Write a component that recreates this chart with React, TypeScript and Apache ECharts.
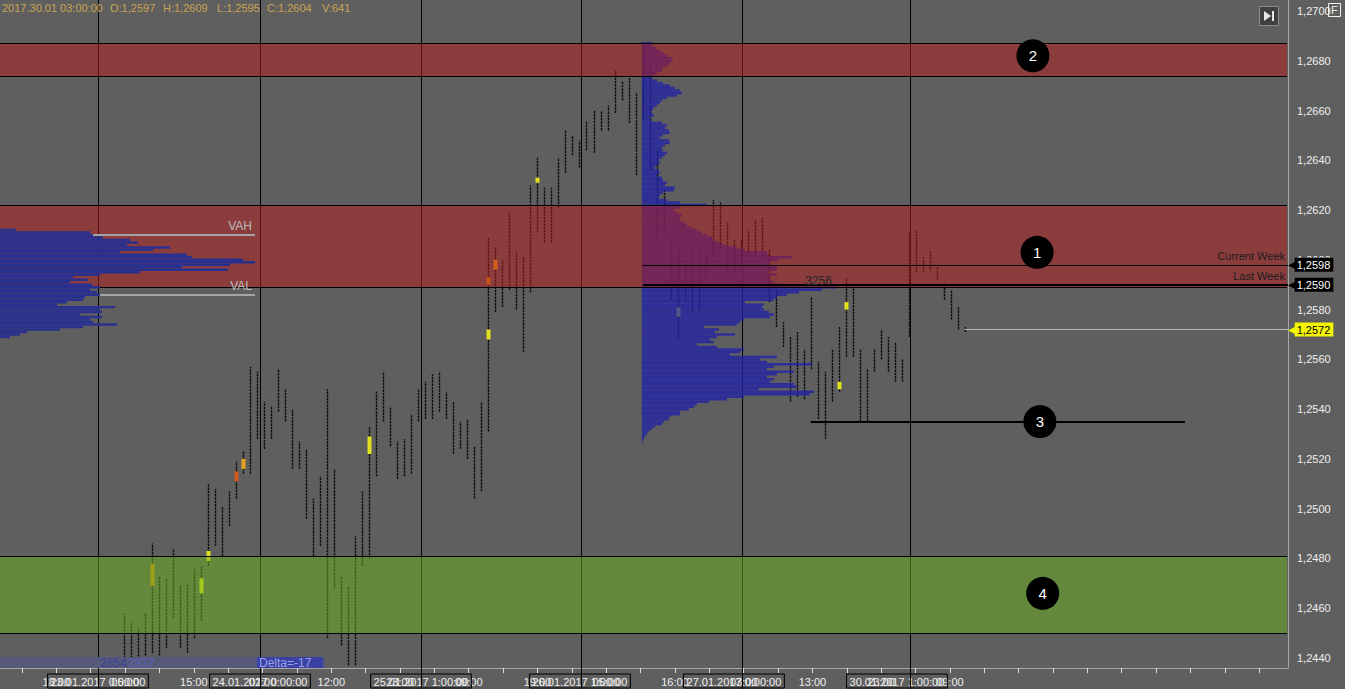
import React, { useEffect, useRef } from 'react';
import * as echarts from 'echarts';

const FONT = '"Liberation Sans", Arial, sans-serif';

// ---- axes ----
const Y_MIN = 1.2436;
const Y_MAX = 1.27044;
const X_MIN = -2.69;
const X_MAX = 181.1;

const PRICE_TICKS = [1.244, 1.246, 1.248, 1.25, 1.252, 1.254, 1.256, 1.258, 1.26, 1.262, 1.264, 1.266, 1.268, 1.27];

const TICK_START = 0.445;
const TICK_STEP = 4.904;
const TICK_COUNT = 37;
const TIME_LABELS: [number, string][] = [
  [1, '18:00'], [3, '05:00'], [5, '15:00'], [7, '02:00'], [9, '12:00'], [11, '23:00'], [13, '09:00'],
  [15, '19:00'], [17, '05:00'], [19, '16:00'], [21, '03:00'], [23, '13:00'], [25, '23:00'], [27, '09:00'],
];

const DATE_LABELS = ['23.01.2017 0:00:00', '24.01.2017 0:00:00', '25.01.2017 1:00:00', '26.01.2017 1:00:00', '27.01.2017 0:00:00', '30.01.2017 1:00:00'];
const DATE_LABEL_POS = [11.29, 34.41, 57.38, 80.07, 102.04, 125.3];
const DAY_LINES = [11.29, 34.41, 57.38, 80.21, 103.19, 127.16];

const HEADER = ['2017.30.01 03:00:00', 'O:1,2597', 'H:1,2609', 'L:1,2595', 'C:1,2604', 'V:641'];

// ---- price bars: [low, high], one per slot starting at BAR_START ----
const BAR_START = 15;
const BAR_RANGES: [number, number][] = [
  [1.2440, 1.2458], [1.2440, 1.2454], [1.2438, 1.2452], [1.2441, 1.2458], [1.2442, 1.2486],
  [1.2441, 1.2473], [1.2444, 1.2472], [1.2456, 1.2484], [1.2444, 1.2469], [1.2442, 1.2470],
  [1.2448, 1.2476], [1.2455, 1.2477], [1.2477, 1.2510], [1.2485, 1.2508], [1.2481, 1.2501],
  [1.2493, 1.2507], [1.2504, 1.2519], [1.2514, 1.2523], [1.2514, 1.2557], [1.2528, 1.2555],
  [1.2524, 1.2543], [1.2528, 1.2541], [1.2539, 1.2556], [1.2535, 1.2548], [1.2516, 1.2540],
  [1.2516, 1.2527], [1.2496, 1.2524], [1.2481, 1.2504], [1.2485, 1.2513], [1.2448, 1.2548],
  [1.2468, 1.2516], [1.2445, 1.2473], [1.2437, 1.2469], [1.2437, 1.2489], [1.2477, 1.2507],
  [1.2480, 1.2533], [1.2513, 1.2547], [1.2535, 1.2555], [1.2525, 1.2541], [1.2512, 1.2527],
  [1.2513, 1.2528], [1.2514, 1.2538], [1.2535, 1.2548], [1.2536, 1.2551], [1.2536, 1.2554],
  [1.2539, 1.2555], [1.2536, 1.2547], [1.2522, 1.2543], [1.2524, 1.2535], [1.2520, 1.2536],
  [1.2504, 1.2525], [1.2507, 1.2543], [1.2531, 1.2609], [1.2579, 1.2605], [1.2581, 1.2600],
  [1.2588, 1.2619], [1.2580, 1.2603], [1.2563, 1.2601], [1.2587, 1.2630], [1.2611, 1.2641],
  [1.2607, 1.2629], [1.2607, 1.2629], [1.2621, 1.2641], [1.2635, 1.2652], [1.2642, 1.2650],
  [1.2637, 1.2648], [1.2644, 1.2656], [1.2643, 1.2660], [1.2652, 1.2660], [1.2652, 1.2662],
  [1.2659, 1.2676], [1.2664, 1.2672], [1.2655, 1.2673], [1.2634, 1.2667], [1.2656, 1.2686],
  [1.2636, 1.2680], [1.2607, 1.2644], [1.2610, 1.2628], [1.2584, 1.2607], [1.2568, 1.2604],
  [1.2584, 1.2600], [1.2579, 1.2604], [1.2580, 1.2604], [1.2593, 1.2602], [1.2601, 1.2624],
  [1.2605, 1.2623], [1.2596, 1.2615], [1.2595, 1.2608], [1.2599, 1.2608], [1.2601, 1.2612],
  [1.2601, 1.2616], [1.2600, 1.2617], [1.2583, 1.2604], [1.2573, 1.2588], [1.2565, 1.2575],
  [1.2543, 1.2569], [1.2545, 1.2571], [1.2544, 1.2564], [1.2556, 1.2585], [1.2536, 1.2559],
  [1.2528, 1.2555], [1.2543, 1.2564], [1.2547, 1.2573], [1.2561, 1.2593], [1.2561, 1.2589],
  [1.2535, 1.2564], [1.2535, 1.2556], [1.2555, 1.2564], [1.2560, 1.2572], [1.2555, 1.2569],
  [1.2551, 1.2567], [1.2551, 1.2560], [1.2569, 1.2611], [1.2595, 1.2612], [1.2595, 1.2601],
  [1.2596, 1.2604], [1.2592, 1.2597], [1.2584, 1.2591], [1.2576, 1.2588], [1.2572, 1.2581],
  [1.2571, 1.2573],
];

// highlighted (high volume) clusters: [bar slot, low, high, color]
const HIGHLIGHTS: [number, number, number, string][] = [
  [19, 1.2469, 1.2478, '#d98a14'],
  [26, 1.2466, 1.2472, '#e2e21c'],
  [27, 1.2479, 1.2483, '#e2e21c'],
  [31, 1.2511, 1.2515, '#cf5a1a'],
  [32, 1.2516, 1.2520, '#e6a41a'],
  [50, 1.2522, 1.2529, '#e2e21c'],
  [67, 1.2568, 1.2572, '#e2e21c'],
  [67, 1.2590, 1.2593, '#d98a14'],
  [68, 1.2596, 1.2600, '#e6a41a'],
  [74, 1.2631, 1.2633, '#e2e21c'],
  [94, 1.2577, 1.2581, '#e2e21c'],
  [117, 1.2548, 1.2551, '#e2e21c'],
  [118, 1.2580, 1.2583, '#e2e21c'],
];

// ---- zones ----
const ZONES = [
  { low: 1.2674, high: 1.2687, fill: 'rgba(183,27,27,0.5)' },
  { low: 1.2589, high: 1.2622, fill: 'rgba(183,27,27,0.5)' },
  { low: 1.2450, high: 1.2481, fill: 'rgba(105,177,25,0.5)' },
];

// ---- volume profiles (volume per 0.0001 level, from top price downward) ----
const TICK_SIZE = 0.0001;
const VOLUME_SCALE = 1 / 7.008;

const LEFT_PROFILE_TOP = 1.2612;
const LEFT_PROFILE = [16, 90, 93, 103, 130, 138, 127, 170, 153, 120, 187, 192, 243, 255, 230, 182, 228, 140, 100, 73,
  88, 70, 92, 100, 90, 97, 100, 85, 83, 67, 57, 115, 100, 102, 80, 102, 90, 93, 117, 83, 60, 27, 20, 10];
const LEFT_VAH = 1.2610;
const LEFT_VAL = 1.2586;
const LEFT_PROFILE_END = 33.69;

const MID_PROFILE_START = 88.9;
const MID_PROFILE_TOP = 1.2687;
const MID_PROFILE = [
  10, 11, 14, 18, 22, 25, 31, 30, 28, 25, 21, 20, 15, 12, 10, 15, 21, 28, 33, 38,
  40, 35, 25, 20, 18, 15, 12, 10, 10, 12, 8, 10, 20, 25, 23, 27, 28, 21, 18, 27,
  28, 23, 20, 21, 25, 23, 20, 17, 18, 15, 13, 17, 18, 15, 20, 21, 25, 23, 33, 32,
  21, 18, 17, 25, 38, 65,
  38, 32, 35, 40, 38, 38, 42, 45, 50, 55, 60, 65, 70, 72, 77, 83, 95, 103, 125, 127,
  150, 137, 128, 127, 135, 135, 125, 135, 128, 128, 132, 140, 195, 180, 157, 145, 135, 132, 103, 122,
  120, 122, 127, 132, 128, 102, 98, 95, 62, 77, 73, 93, 75, 68, 72, 55, 75, 102, 98, 88,
  135, 118, 125, 170, 132, 125, 152, 135, 125, 132, 128, 152, 155, 117, 172, 168, 102, 85, 67, 55,
  52, 47, 38, 38, 28, 27, 22, 20, 13, 10, 7, 5, 3, 2, 1,
];
const POC_LABEL = '3256';

// ---- reference lines ----
const WEEK_LINE_START = 89.06;
const CURRENT_WEEK = 1.2598;
const LAST_WEEK = 1.2590;
const LAST_PRICE = 1.2572;
const LEVEL_3 = 1.2535;
const LEVEL_3_FROM = 113.0;
const LEVEL_3_TO = 166.4;

const MARKERS = [
  { name: '1', value: [145.3, 1.2603] },
  { name: '2', value: [144.7, 1.2682] },
  { name: '3', value: [145.7, 1.2535] },
  { name: '4', value: [146.1, 1.2466] },
];

const fmtPrice = (v: number) => v.toFixed(4).replace('.', ',');
const levelPrice = (top: number, i: number) => Math.round((top - i * TICK_SIZE) * 10000) / 10000;

function tag(price: number, bg: string, fg: string) {
  return {
    show: true,
    position: 'end',
    distance: 0,
    formatter: '{a|◀}{b|' + fmtPrice(price) + '}',
    rich: {
      a: { color: bg, fontSize: 10, fontFamily: 'DejaVu Sans', padding: [0, -1, 0, 0] },
      b: { backgroundColor: bg, color: fg, fontSize: 11, fontFamily: FONT, padding: [2, 3, 1, 2] },
    },
  };
}

function buildOption() {
  const tickValues = Array.from({ length: TICK_COUNT }, (_, k) => TICK_START + k * TICK_STEP);
  const timeLabelValues = TIME_LABELS.map(([k]) => TICK_START + k * TICK_STEP);

  const profileRect = (api: any, start: number, price: number, vol: number) => {
    const p1 = api.coord([start, price + TICK_SIZE / 2]);
    const p2 = api.coord([start + vol * VOLUME_SCALE, price - TICK_SIZE / 2]);
    return { x: p1[0], y: p1[1], width: p2[0] - p1[0], height: p2[1] - p1[1] };
  };

  const pocIndex = MID_PROFILE.indexOf(Math.max(...MID_PROFILE));

  return {
    animation: false,
    backgroundColor: '#5f5f5f',
    textStyle: { fontFamily: FONT },
    grid: { left: 0, top: 0, right: 57, bottom: 21, containLabel: false },
    xAxis: [
      {
        type: 'value', min: X_MIN, max: X_MAX, position: 'bottom',
        axisLine: { show: true, onZero: false, lineStyle: { color: '#a6a6a6', width: 1 } },
        axisTick: { show: true, customValues: tickValues, length: 5, lineStyle: { color: '#dcdcdc' } },
        axisLabel: {
          customValues: timeLabelValues,
          formatter: (v: number) => {
            const f = TIME_LABELS.find(([k]) => Math.abs(TICK_START + k * TICK_STEP - v) < 0.01);
            return f ? f[1] : '';
          },
          color: '#f0f0f0', fontSize: 11, fontFamily: FONT, margin: 8,
        },
        splitLine: { show: false },
      },
      {
        type: 'value', min: X_MIN, max: X_MAX, position: 'bottom', offset: 0,
        axisLine: { show: false, onZero: false }, axisTick: { show: false },
        axisLabel: {
          customValues: DATE_LABEL_POS,
          formatter: (v: number) => {
            const i = DATE_LABEL_POS.findIndex((d) => Math.abs(d - v) < 0.01);
            return i >= 0 ? DATE_LABELS[i] : '';
          },
          color: '#f0f0f0', fontSize: 11, fontFamily: FONT, margin: 6,
          borderColor: '#000', borderWidth: 1, padding: [2, 3, 1, 3],
        },
        splitLine: { show: false },
      },
    ],
    yAxis: {
      type: 'value', position: 'right', min: Y_MIN, max: Y_MAX,
      axisLine: { show: true, onZero: false, lineStyle: { color: '#a6a6a6', width: 1 } },
      axisTick: { show: false },
      axisLabel: { customValues: PRICE_TICKS, formatter: (v: number) => fmtPrice(v), color: '#f0f0f0', fontSize: 11, fontFamily: FONT, margin: 9 },
      splitLine: { show: false },
    },
    series: [
      {
        name: 'dayLines', type: 'custom', z: 1, silent: true, clip: false,
        data: DAY_LINES.map((d) => [d, Y_MIN]),
        encode: { x: 0, y: 1 },
        renderItem: (params: any, api: any) => {
          const cs = params.coordSys;
          const x = Math.round(api.coord([api.value(0), Y_MIN])[0]) + 0.5;
          return { type: 'line', shape: { x1: x, y1: cs.y, x2: x, y2: cs.y + cs.height + 21 }, style: { stroke: '#000', lineWidth: 1 } };
        },
      },
      {
        name: 'bars', type: 'custom', z: 2, silent: true,
        data: BAR_RANGES.map(([lo, hi], i) => [BAR_START + i, lo, hi]),
        encode: { x: 0, y: [1, 2] },
        renderItem: (params: any, api: any) => {
          const x = api.value(0);
          const lo = api.coord([x, api.value(1)]);
          const hi = api.coord([x, api.value(2)]);
          const px = Math.round(lo[0]) + 0.5;
          return {
            type: 'line',
            shape: { x1: px, y1: lo[1], x2: px, y2: hi[1] },
            style: { stroke: '#0c0c0c', lineWidth: 1.4, lineDash: [2.5, 0.8] },
          };
        },
      },
      {
        name: 'highlights', type: 'custom', z: 2, silent: true,
        data: HIGHLIGHTS.map(([b, lo, hi]) => [b, lo, hi]),
        encode: { x: 0, y: [1, 2] },
        renderItem: (params: any, api: any) => {
          const x = api.value(0);
          const lo = api.coord([x, api.value(1)]);
          const hi = api.coord([x, api.value(2)]);
          return {
            type: 'rect',
            shape: { x: Math.round(lo[0]) - 1.5, y: hi[1], width: 4, height: lo[1] - hi[1] },
            style: { fill: HIGHLIGHTS[params.dataIndex][3] },
          };
        },
      },
      {
        name: 'midProfile', type: 'custom', z: 3, silent: true,
        data: MID_PROFILE.map((v, i) => [levelPrice(MID_PROFILE_TOP, i), v]),
        encode: { y: 0 },
        renderItem: (params: any, api: any) => ({
          type: 'rect',
          shape: profileRect(api, MID_PROFILE_START, api.value(0), api.value(1)),
          style: { fill: 'rgba(34,34,166,0.8)' },
        }),
      },
      {
        name: 'zones', type: 'custom', z: 4, silent: true,
        data: ZONES.map((z) => [z.low, z.high]),
        encode: { y: [0, 1] },
        renderItem: (params: any, api: any) => {
          const cs = params.coordSys;
          const zone = ZONES[params.dataIndex];
          const top = Math.round(api.coord([X_MIN, zone.high])[1]) + 0.5;
          const bot = Math.round(api.coord([X_MIN, zone.low])[1]) + 0.5;
          const right = cs.x + cs.width - 1;
          return {
            type: 'group',
            children: [
              { type: 'rect', shape: { x: cs.x, y: top, width: right - cs.x, height: bot - top }, style: { fill: zone.fill } },
              { type: 'line', shape: { x1: cs.x, y1: top, x2: right, y2: top }, style: { stroke: '#000', lineWidth: 1 } },
              { type: 'line', shape: { x1: cs.x, y1: bot, x2: right, y2: bot }, style: { stroke: '#000', lineWidth: 1 } },
            ],
          };
        },
      },
      {
        name: 'leftProfile', type: 'custom', z: 5, silent: true,
        data: LEFT_PROFILE.map((v, i) => [levelPrice(LEFT_PROFILE_TOP, i), v]),
        encode: { y: 0 },
        renderItem: (params: any, api: any) => ({
          type: 'rect',
          shape: profileRect(api, X_MIN, api.value(0), api.value(1)),
          style: { fill: '#29308e' },
        }),
      },
      {
        name: 'pocLabel', type: 'custom', z: 6, silent: true,
        data: [[levelPrice(MID_PROFILE_TOP, pocIndex), MID_PROFILE[pocIndex]]],
        encode: { y: 0 },
        renderItem: (params: any, api: any) => {
          const r = profileRect(api, MID_PROFILE_START, api.value(0), api.value(1));
          return {
            type: 'text', x: r.x + r.width - 5, y: r.y + 1,
            style: { text: POC_LABEL, fill: '#262626', font: '12px ' + FONT, align: 'right', verticalAlign: 'bottom' },
          };
        },
      },
      {
        name: 'levels', type: 'line', z: 6, silent: true, clip: false, data: [],
        markLine: {
          silent: true, symbol: ['none', 'none'], animation: false,
          data: [
            [
              { coord: [X_MIN, LEFT_VAH], lineStyle: { color: '#a4a4a4', width: 2, type: 'solid' },
                label: { show: true, position: 'insideEndTop', formatter: 'VAH', color: '#bcbcbc', fontSize: 12, fontFamily: FONT, distance: 3 } },
              { coord: [LEFT_PROFILE_END, LEFT_VAH] },
            ],
            [
              { coord: [X_MIN, LEFT_VAL], lineStyle: { color: '#a4a4a4', width: 2, type: 'solid' },
                label: { show: true, position: 'insideEndTop', formatter: 'VAL', color: '#bcbcbc', fontSize: 12, fontFamily: FONT, distance: 3 } },
              { coord: [LEFT_PROFILE_END, LEFT_VAL] },
            ],
            [
              { coord: [WEEK_LINE_START, CURRENT_WEEK], lineStyle: { color: '#000', width: 1, type: 'solid' },
                label: { show: true, position: 'insideEndTop', formatter: 'Current Week', color: '#1c1c1c', fontSize: 11, fontFamily: FONT, distance: 3 } },
              { coord: [X_MAX, CURRENT_WEEK] },
            ],
            [
              { coord: [WEEK_LINE_START, CURRENT_WEEK], lineStyle: { color: '#000', width: 1, type: 'solid' }, label: tag(CURRENT_WEEK, '#000', '#fff') },
              { coord: [X_MAX, CURRENT_WEEK] },
            ],
            [
              { coord: [WEEK_LINE_START, LAST_WEEK], lineStyle: { color: '#000', width: 2, type: 'solid' },
                label: { show: true, position: 'insideEndTop', formatter: 'Last Week', color: '#1c1c1c', fontSize: 11, fontFamily: FONT, distance: 3 } },
              { coord: [X_MAX, LAST_WEEK] },
            ],
            [
              { coord: [WEEK_LINE_START, LAST_WEEK], lineStyle: { color: '#000', width: 2, type: 'solid' }, label: tag(LAST_WEEK, '#000', '#fff') },
              { coord: [X_MAX, LAST_WEEK] },
            ],
            [
              { coord: [BAR_START + BAR_RANGES.length - 1, LAST_PRICE], lineStyle: { color: '#b8b8b8', width: 1, type: 'solid' }, label: tag(LAST_PRICE, '#f5f500', '#000') },
              { coord: [X_MAX, LAST_PRICE] },
            ],
            [
              { coord: [LEVEL_3_FROM, LEVEL_3], lineStyle: { color: '#000', width: 2, type: 'solid' }, label: { show: false } },
              { coord: [LEVEL_3_TO, LEVEL_3] },
            ],
          ],
        },
      },
      {
        name: 'markers', type: 'scatter', z: 7, silent: true, clip: false,
        symbol: 'circle', symbolSize: 33,
        itemStyle: { color: '#000', opacity: 1 },
        label: { show: true, position: 'inside', formatter: '{b}', color: '#fff', fontSize: 15, fontFamily: FONT },
        data: MARKERS,
      },
    ],
    graphic: [
      ...HEADER.map((t, i) => ({
        type: 'text', x: [2, 110, 163, 217, 267, 322][i], y: 8, z: 10, silent: true,
        style: { text: t, fill: '#c9a452', font: '11px ' + FONT, verticalAlign: 'middle' },
      })),
      { type: 'rect', z: 10, silent: true, shape: { x: 0, y: 657, width: 325, height: 11 }, style: { fill: '#565a78' } },
      { type: 'text', z: 11, silent: true, x: 100, y: 663, style: { text: '2854', fill: '#3a4296', font: '12px ' + FONT, verticalAlign: 'middle' } },
      { type: 'text', z: 11, silent: true, x: 128, y: 663, style: { text: '2837', fill: '#5a64b8', font: '12px ' + FONT, verticalAlign: 'middle' } },
      { type: 'rect', z: 11, silent: true, shape: { x: 257, y: 657, width: 66, height: 11 }, style: { fill: '#3a40a4' } },
      { type: 'text', z: 12, silent: true, x: 259, y: 663, style: { text: 'Delta=-17', fill: '#9aa0e6', font: '12px ' + FONT, verticalAlign: 'middle' } },
      { type: 'rect', z: 10, silent: true, shape: { x: 1259.5, y: 6.5, width: 19, height: 19 }, style: { fill: '#404040', stroke: '#8c8c8c', lineWidth: 1 } },
      { type: 'polygon', z: 11, silent: true, shape: { points: [[1264, 11], [1264, 21], [1271, 16]] }, style: { fill: '#e6e6e6' } },
      { type: 'rect', z: 11, silent: true, shape: { x: 1272, y: 11, width: 2, height: 10 }, style: { fill: '#e6e6e6' } },
      { type: 'rect', z: 10, silent: true, shape: { x: 1328.5, y: 3.5, width: 12, height: 13 }, style: { fill: 'none', stroke: '#f0f0f0', lineWidth: 1 } },
      { type: 'text', z: 11, silent: true, x: 1331, y: 10, style: { text: 'F', fill: '#f0f0f0', font: '11px ' + FONT, verticalAlign: 'middle' } },
    ],
  };
}

export default function App() {
  const ref = useRef<HTMLDivElement>(null);
  useEffect(() => {
    if (!ref.current) return;
    const chart = echarts.init(ref.current, undefined, { renderer: 'svg' });
    chart.setOption(buildOption() as any);
    return () => chart.dispose();
  }, []);
  return <div ref={ref} style={{ position: 'fixed', left: 0, top: 0, width: 1345, height: 689 }} />;
}
